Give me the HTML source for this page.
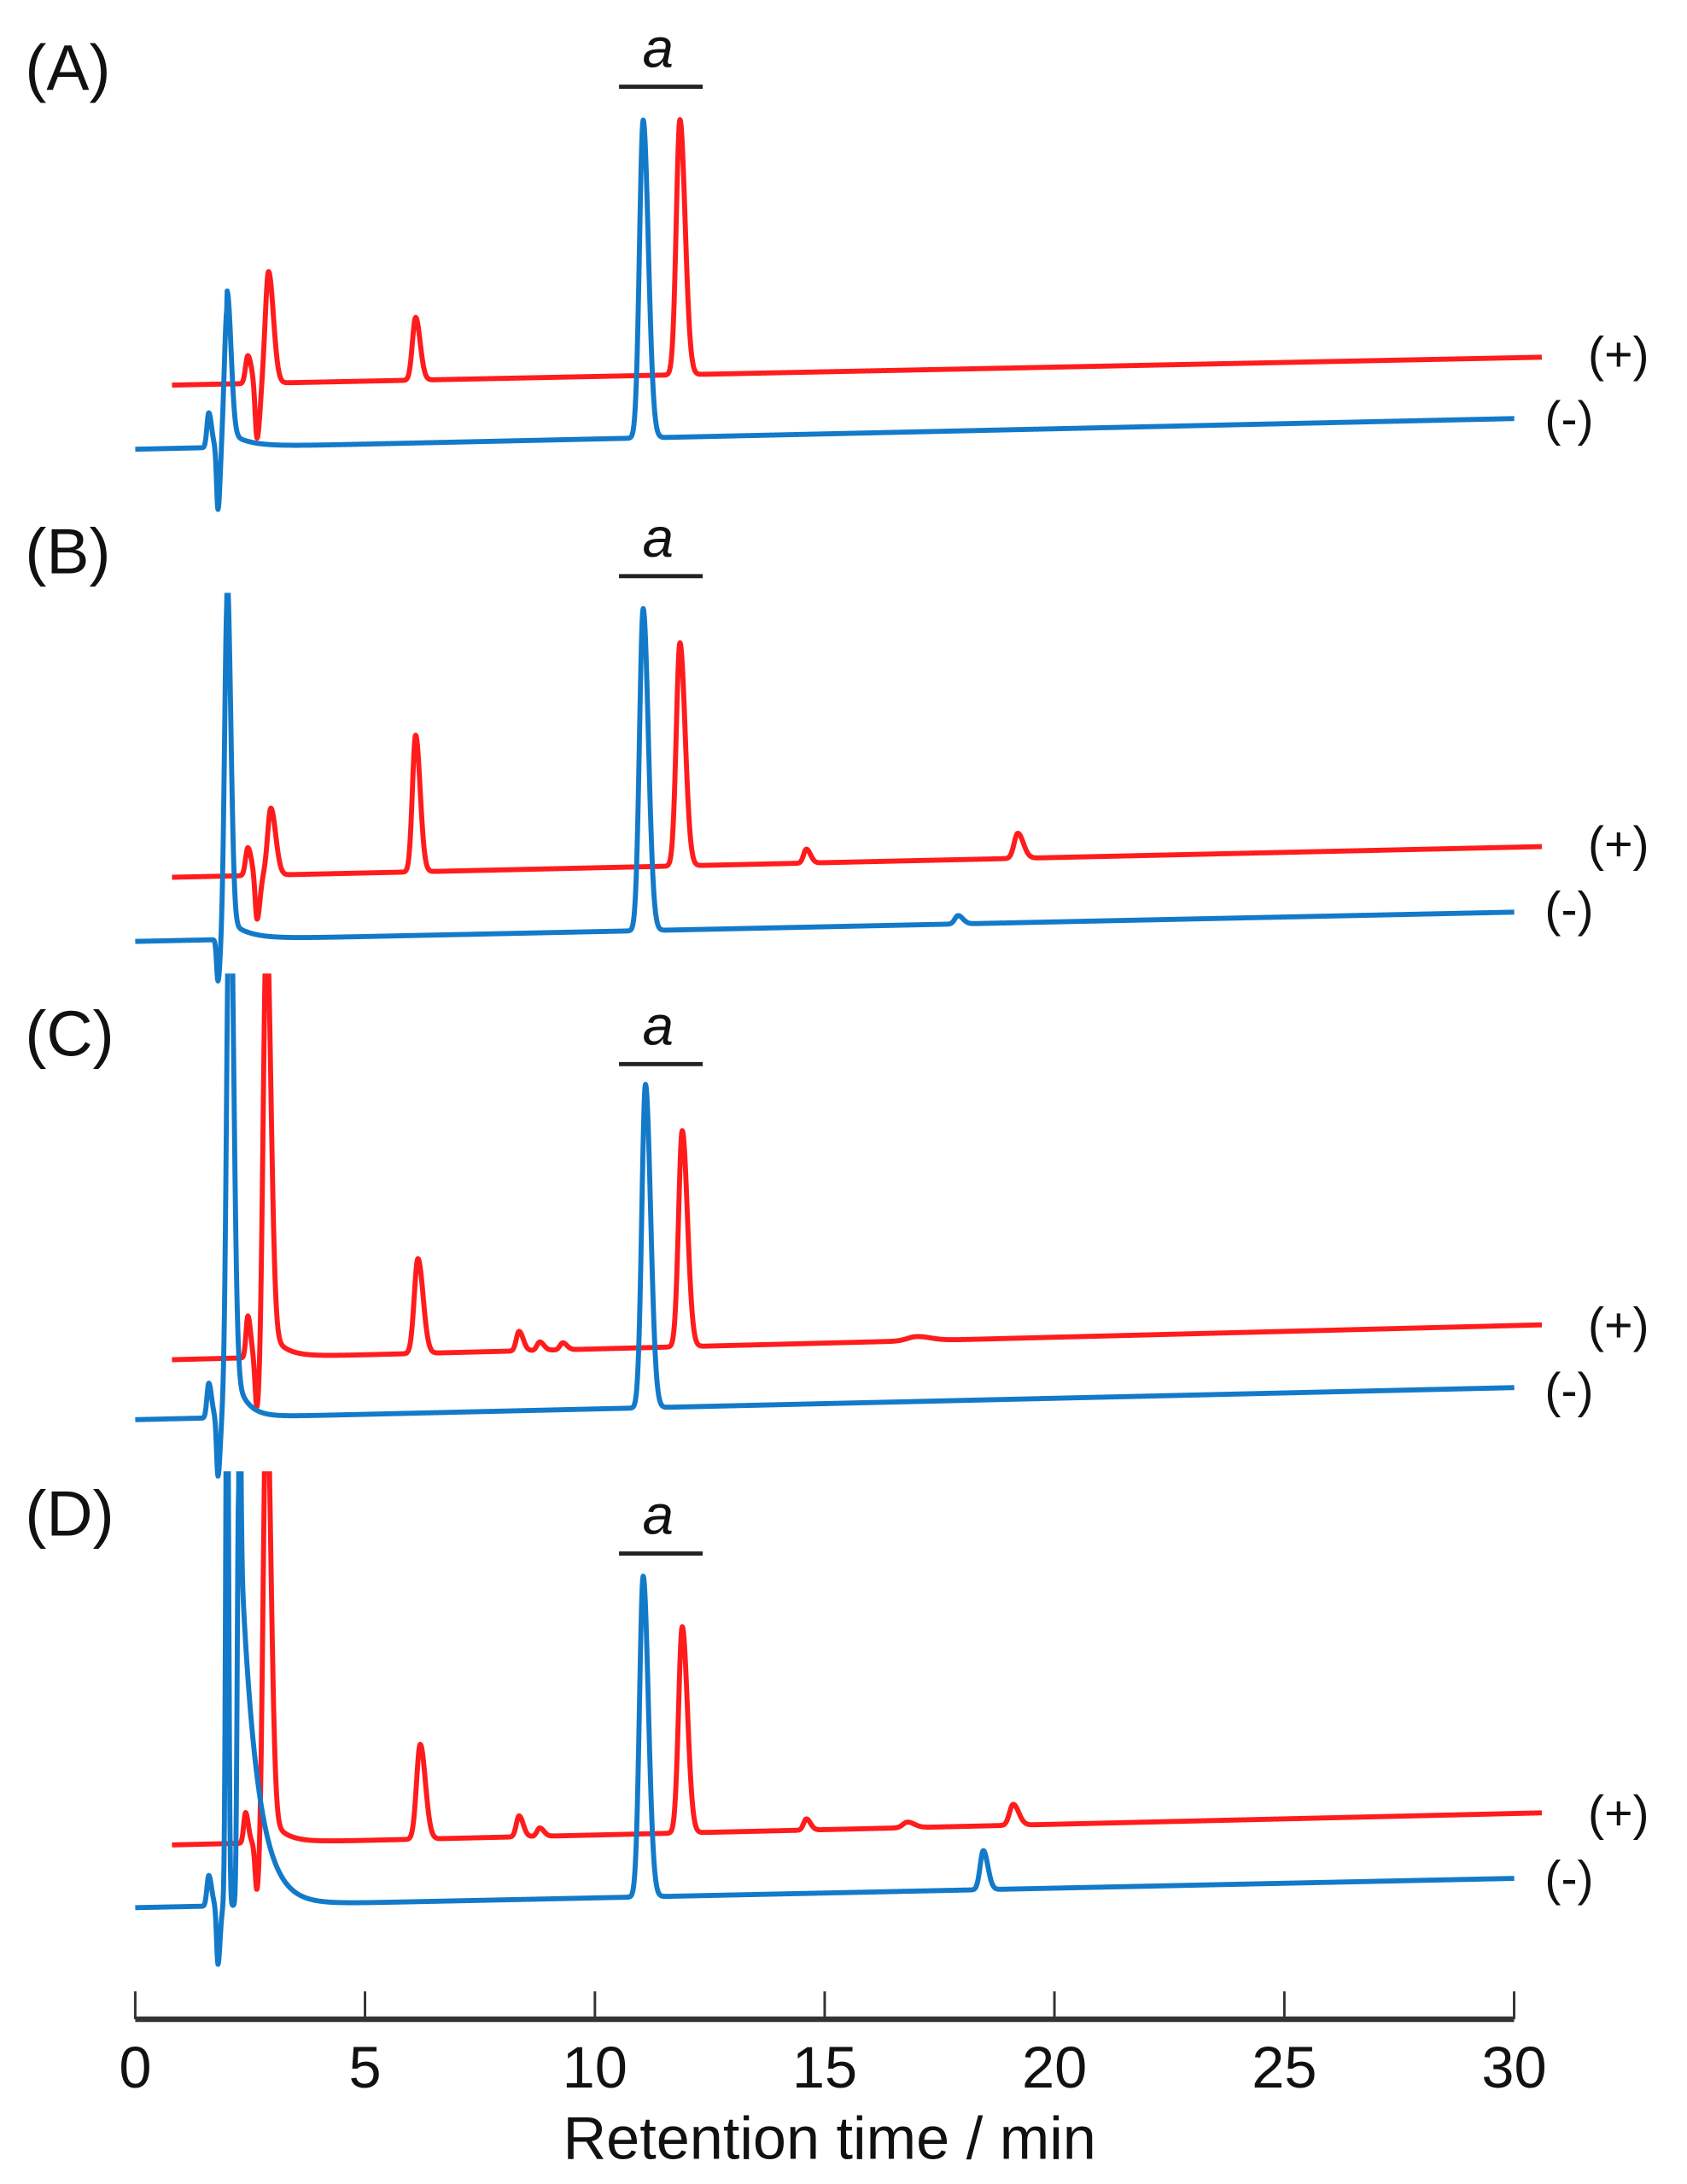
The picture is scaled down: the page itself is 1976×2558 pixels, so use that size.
<!DOCTYPE html>
<html><head><meta charset="utf-8"><style>
html,body{margin:0;padding:0;background:#fff;}
svg{display:block;}
text{font-family:"Liberation Sans",sans-serif;fill:#111;}
</style></head><body>
<svg id="s" width="1976" height="2558" viewBox="0 0 1210 1566" xmlns="http://www.w3.org/2000/svg">
<defs>
<clipPath id="cA"><rect x="0" y="80" width="1210" height="400"/></clipPath>
<clipPath id="cB"><rect x="0" y="425" width="1210" height="400"/></clipPath>
<clipPath id="cC"><rect x="0" y="698" width="1210" height="400"/></clipPath>
<clipPath id="cD"><rect x="0" y="1055" width="1210" height="400"/></clipPath>
</defs>
<g id="traces"></g>
<g font-size="46">
<text x="18" y="64">(A)</text>
<text x="18" y="411">(B)</text>
<text x="18" y="757">(C)</text>
<text x="18" y="1101">(D)</text>
</g>
<g font-size="40" font-style="italic" text-anchor="middle">
<text x="472" y="48">a</text>
<text x="472" y="399">a</text>
<text x="472" y="749">a</text>
<text x="472" y="1100">a</text>
</g>
<g stroke="#222" stroke-width="3">
<line x1="444" y1="62" x2="504" y2="62"/>
<line x1="444" y1="413" x2="504" y2="413"/>
<line x1="444" y1="763" x2="504" y2="763"/>
<line x1="444" y1="1114" x2="504" y2="1114"/>
</g>
<g font-size="35">
<text x="1139" y="266">(+)</text><text x="1108" y="312">(-)</text>
<text x="1139" y="617">(+)</text><text x="1108" y="664">(-)</text>
<text x="1139" y="962">(+)</text><text x="1108" y="1009">(-)</text>
<text x="1139" y="1312">(+)</text><text x="1108" y="1359">(-)</text>
</g>
<g stroke="#333" stroke-width="1.8">
<line x1="97" y1="1448" x2="1086" y2="1448" stroke-width="4"/>
<line x1="97" y1="1428" x2="97" y2="1448"/>
<line x1="261.8" y1="1428" x2="261.8" y2="1448"/>
<line x1="426.7" y1="1428" x2="426.7" y2="1448"/>
<line x1="591.5" y1="1428" x2="591.5" y2="1448"/>
<line x1="756.3" y1="1428" x2="756.3" y2="1448"/>
<line x1="921.2" y1="1428" x2="921.2" y2="1448"/>
<line x1="1086" y1="1428" x2="1086" y2="1448"/>
</g>
<g font-size="42" text-anchor="middle">
<text x="97" y="1497">0</text>
<text x="261.8" y="1497">5</text>
<text x="426.7" y="1497">10</text>
<text x="591.5" y="1497">15</text>
<text x="756.3" y="1497">20</text>
<text x="921.2" y="1497">25</text>
<text x="1086" y="1497">30</text>
</g>
<text x="595" y="1548" font-size="43" text-anchor="middle">Retention time / min</text>
</svg>
<script>
var X=function(t){return 97+32.97*t;};
function trace(t0,t1,y0,y1,peaks,color,clip){
  var d="",n=0;
  for(var t=t0;t<=t1+1e-9;t+=0.01){
    var y=y0+(y1-y0)*(t-t0)/(t1-t0);
    for(var i=0;i<peaks.length;i++){
      var p=peaks[i],c=p[0],h=p[1],s=p[2],tf=p[3]||1.5;
      var sg=t<c?s:s*tf;
      y-=h*Math.exp(-0.5*Math.pow((t-c)/sg,2));
      if(p[4]&&t>c){y-=p[4]*Math.exp(-(t-c)/p[5]);}
    }
    d+=(n++?"L":"M")+X(t).toFixed(2)+" "+y.toFixed(2);
  }
  var g=document.getElementById("traces");
  var e=document.createElementNS("http://www.w3.org/2000/svg","path");
  e.setAttribute("d",d);e.setAttribute("fill","none");e.setAttribute("stroke",color);
  e.setAttribute("stroke-width","3.6");e.setAttribute("stroke-linejoin","round");
  e.setAttribute("clip-path","url(#"+clip+")");
  g.appendChild(e);
}
var R="#ff1c1c",B="#137ac9";
trace(0.8,30.6,276,256,[[2.45,20,0.05],[2.65,-40,0.04],[2.9,80,0.07,1.5],[6.1,45,0.07,1.4],[11.85,183,0.08,1.4]],R,"cA");
trace(0,30,322,300,[[1.6,25,0.04],[1.8,-45,0.03],[2.0,100,0.06,1.4,12,0.4],[11.05,228,0.08,1.4]],B,"cA");
trace(0.8,30.6,629,607,[[2.45,20,0.05],[2.65,-32,0.04],[2.95,48,0.07,1.5],[6.1,98,0.07,1.4],[11.85,160,0.08,1.4],[14.6,10,0.06],[19.2,18,0.08]],R,"cB");
trace(0,30,675,654,[[1.8,-30,0.03],[2.0,245,0.055,1.4,15,0.4],[11.05,231,0.08,1.4],[17.9,6,0.07]],B,"cB");
trace(0.8,30.6,975,950,[[2.45,30,0.04],[2.65,-38,0.04],[2.85,300,0.065,1.5,25,0.3],[6.15,68,0.08,1.4],[8.35,14,0.06],[8.8,6,0.06],[9.3,5,0.06],[11.9,155,0.08,1.4],[17,3,0.2]],R,"cC");
trace(0,30,1018,995,[[1.6,25,0.04],[1.8,-42,0.03],[2.05,400,0.06,1.4,50,0.25],[11.1,232,0.08,1.4]],B,"cC");
trace(0.8,30.6,1323,1300,[[2.4,22,0.04],[2.65,-36,0.04],[2.85,320,0.065,1.5,25,0.3],[6.2,68,0.08,1.4],[8.35,15,0.06],[8.8,6,0.06],[11.9,148,0.08,1.4],[14.6,8,0.06],[16.8,4,0.1],[19.1,15,0.08]],R,"cD");
trace(0,30,1368,1347,[[1.6,22,0.04],[1.8,-42,0.03],[2.0,450,0.03,1.0],[2.25,300,0.03,1,290,0.35],[11.05,230,0.08,1.4],[18.45,28,0.07,1.4]],B,"cD");
</script>
</body></html>
